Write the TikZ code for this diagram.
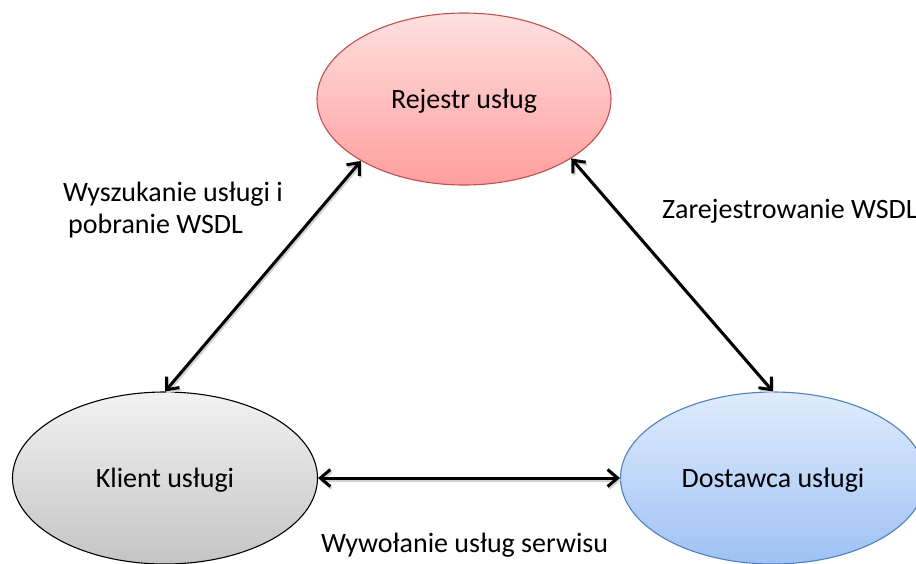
\documentclass[tikz,border=0pt]{standalone}
\usepackage{fontspec}
\setmainfont{Carlito}
\usetikzlibrary{shapes.geometric,arrows.meta}

\definecolor{regtop}{RGB}{255,224,224}
\definecolor{regbot}{RGB}{255,158,158}
\definecolor{regline}{RGB}{192,80,77}
\definecolor{clitop}{RGB}{242,242,242}
\definecolor{clibot}{RGB}{196,196,196}
\definecolor{provtop}{RGB}{224,236,253}
\definecolor{provbot}{RGB}{158,193,244}
\definecolor{provline}{RGB}{79,129,189}

\tikzset{
  barbtip/.tip={Straight Barb[length=10pt,width=17pt,line width=3pt]},
  actor/.style={ellipse, inner sep=0pt, line width=1.1pt, text depth=0pt,
    font=\fontsize{28}{32}\selectfont},
  caption/.style={anchor=base west, inner sep=0pt,
    font=\fontsize{28}{32}\selectfont, align=left},
  link/.style={line width=3pt, line join=miter, barbtip-barbtip,
    preaction={draw=black!18, line width=3pt,
      transform canvas={shift={(1.2pt,-2pt)}}}},
}

\begin{document}
\begin{tikzpicture}[x=1pt,y=-1pt]
  \useasboundingbox (0,0) rectangle (916,563);
  \clip (0,0) rectangle (916,563);
  \fill[white] (0,0) rectangle (916,563);

  % the three parties
  \node[actor, draw=regline, top color=regtop, bottom color=regbot,
        minimum width=294pt, minimum height=172pt]
        (rejestr) at (464,99) {Rejestr usług};
  \node[actor, draw=black, top color=clitop, bottom color=clibot,
        minimum width=305pt, minimum height=172pt]
        (klient) at (165,478) {Klient usługi};
  \node[actor, draw=provline, top color=provtop, bottom color=provbot,
        minimum width=305pt, minimum height=172pt]
        (dostawca) at (773,478) {Dostawca usługi};

  % interactions between them
  \draw[link] (klient.north) -- (rejestr.211);
  \draw[link] (rejestr.331.5) -- (dostawca.north);
  \draw[link] (klient.east) -- (dostawca.west);

  % interaction labels
  \node[caption] (lbl-find) at (63,233)
    {Wyszukanie usługi i\\\hspace*{5pt}pobranie WSDL};
  \node[caption] (lbl-reg) at (662,218) {Zarejestrowanie WSDL};
  \node[caption] (lbl-call) at (321,552) {Wywołanie usług serwisu};
\end{tikzpicture}
\end{document}
